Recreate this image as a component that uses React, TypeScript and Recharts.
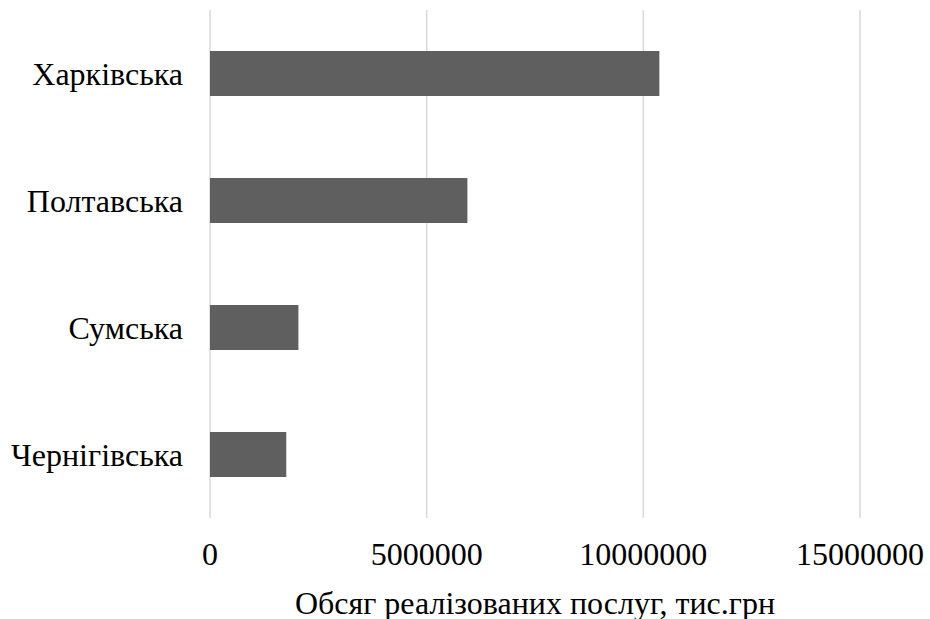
import { Bar, BarChart, CartesianGrid, Label, XAxis, YAxis } from "recharts";

const regions = ["Харківська", "Полтавська", "Сумська", "Чернігівська"];
const servicesVolume = [10370000, 5940000, 2040000, 1760000];
const volumeTicks = [0, 5000000, 10000000, 15000000];

const axisTitle = "Обсяг реалізованих послуг, тис.грн";

const data = regions.map((region, i) => ({ region, volume: servicesVolume[i] }));

const fontFamily = "'Times New Roman', Times, 'Liberation Serif', 'DejaVu Serif', serif";

export default function App() {
  return (
    <div style={{ position: "absolute", left: 0, top: 0, background: "#fff" }}>
      <BarChart
        width={930}
        height={619}
        data={data}
        layout="vertical"
        margin={{ top: 10, right: 70, bottom: 0, left: 0 }}
        style={{ fontFamily }}
      >
        <CartesianGrid horizontal={false} stroke="#d9d9d9" strokeWidth={1.5} />
        <XAxis
          type="number"
          dataKey="volume"
          domain={[0, 15000000]}
          ticks={volumeTicks}
          axisLine={false}
          tickLine={false}
          tickSize={0}
          tickMargin={24}
          height={101}
          tick={{ fill: "#000", fontSize: 32, fontFamily }}
        >
          <Label
            value={axisTitle}
            position="insideBottom"
            offset={5}
            fill="#000"
            fontSize={32}
            fontFamily={fontFamily}
          />
        </XAxis>
        <YAxis
          type="category"
          dataKey="region"
          width={210}
          axisLine={false}
          tickLine={false}
          tickSize={0}
          tickMargin={27}
          tick={{ fill: "#000", fontSize: 32, fontFamily }}
        />
        <Bar dataKey="volume" fill="#5f5f5f" barSize={45} isAnimationActive={false} />
      </BarChart>
    </div>
  );
}
